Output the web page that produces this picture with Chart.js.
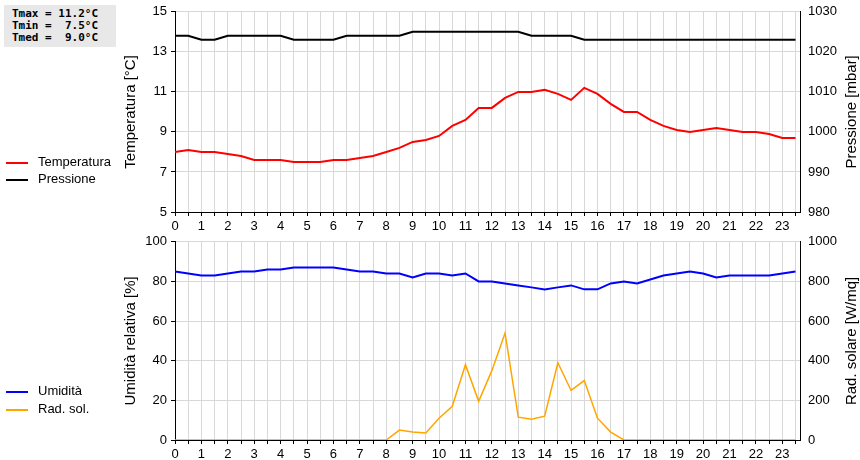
<!DOCTYPE html>
<html>
<head>
<meta charset="utf-8">
<script src="https://cdn.jsdelivr.net/npm/chart.js@4"></script>
<style>
body { margin: 0; background: #fff; font-family: "Liberation Sans", Arial, sans-serif; }
#wrap { position: relative; width: 860px; height: 460px; }
.cv { position: absolute; left: 0; }
#stats { position: absolute; left: 4px; top: 5px; width: 104px; background: #e8e8e8; font: bold 11px "DejaVu Sans Mono", monospace; padding: 3px 0 3px 8px; line-height: 12px; white-space: pre; }
.leg { position: absolute; left: 6px; font-size: 13px; }
.leg span { display: inline-block; width: 22px; height: 2px; vertical-align: middle; margin-right: 10px; }
</style>
</head>
<body>
<div id="wrap">
  <canvas id="topChart" class="cv" style="top:0" width="860" height="232"></canvas>
  <canvas id="botChart" class="cv" style="top:230px" width="860" height="230"></canvas>
  <div id="stats">Tmax = 11.2°C
Tmin =  7.5°C
Tmed =  9.0°C</div>
  <div class="leg" style="top:154px"><span style="background:#f00"></span>Temperatura</div>
  <div class="leg" style="top:171px"><span style="background:#000"></span>Pressione</div>
  <div class="leg" style="top:383px"><span style="background:#00f"></span>Umidità</div>
  <div class="leg" style="top:401px"><span style="background:#ffa500"></span>Rad. sol.</div>
</div>
<script>
// half-hour readings, 0.0 .. 23.5
const hours = Array.from({ length: 48 }, (_, i) => i / 2);

const temperatura = [8.0, 8.1, 8.0, 8.0, 7.9, 7.8, 7.6, 7.6, 7.6, 7.5, 7.5, 7.5,
    7.6, 7.6, 7.7, 7.8, 8.0, 8.2, 8.5, 8.6, 8.8, 9.3, 9.6, 10.2,
    10.2, 10.7, 11.0, 11.0, 11.1, 10.9, 10.6, 11.2, 10.9, 10.4, 10.0, 10.0,
    9.6, 9.3, 9.1, 9.0, 9.1, 9.2, 9.1, 9.0, 9.0, 8.9, 8.7, 8.7];
const pressione = [1024, 1024, 1023, 1023, 1024, 1024, 1024, 1024, 1024, 1023, 1023, 1023,
    1023, 1024, 1024, 1024, 1024, 1024, 1025, 1025, 1025, 1025, 1025, 1025,
    1025, 1025, 1025, 1024, 1024, 1024, 1024, 1023, 1023, 1023, 1023, 1023,
    1023, 1023, 1023, 1023, 1023, 1023, 1023, 1023, 1023, 1023, 1023, 1023];
const umidita = [85, 84, 83, 83, 84, 85, 85, 86, 86, 87, 87, 87,
    87, 86, 85, 85, 84, 84, 82, 84, 84, 83, 84, 80,
    80, 79, 78, 77, 76, 77, 78, 76, 76, 79, 80, 79,
    81, 83, 84, 85, 84, 82, 83, 83, 83, 83, 84, 85];
const radSol = [0, 0, 0, 0, 0, 0, 0, 0, 0, 0, 0, 0,
    0, 0, 0, 0, 0, 50, 40, 35, 110, 170, 380, 195,
    350, 540, 115, 105, 120, 390, 250, 300, 110, 40, 0, 0,
    0, 0, 0, 0, 0, 0, 0, 0, 0, 0, 0, 0];

const tickFont = { family: 'Liberation Sans', size: 13 };
const titleFont = { family: 'Liberation Sans', size: 15 };
const pts = arr => arr.map((v, i) => ({ x: hours[i], y: v }));

// right axis title reads bottom-to-top like the left one
const rightTitle = {
    id: 'rightTitle',
    afterDraw(chart, args, opts) {
        const a = chart.scales.y1;
        const ctx = chart.ctx;
        ctx.save();
        ctx.translate(a.right - 8, (a.top + a.bottom) / 2);
        ctx.rotate(-Math.PI / 2);
        ctx.font = '15px "Liberation Sans"';
        ctx.fillStyle = '#000';
        ctx.textAlign = 'center';
        ctx.textBaseline = 'middle';
        ctx.fillText(opts.text, 0, 0);
        ctx.restore();
    }
};

function xScale() {
    return {
        type: 'linear', min: 0, max: 23.67,
        afterBuildTicks: axis => { axis.ticks = hours.map(h => ({ value: h })); },
        ticks: { color: '#000', font: tickFont, maxRotation: 0, autoSkip: false,
            callback: v => Number.isInteger(v) ? v : '' },
        grid: { color: '#d8d8d8', tickColor: '#000', tickLength: 4 },
        border: { color: '#000' },
        afterFit: a => { a.height = 20; }
    };
}

function yScale(pos, min, max, step, title, grid) {
    return {
        position: pos, min: min, max: max,
        ticks: { stepSize: step, color: '#000', font: tickFont, padding: 4, callback: v => String(v) },
        grid: { display: grid, color: '#d8d8d8', drawTicks: true, tickColor: '#000', tickLength: 4 },
        border: { color: '#000' },
        title: { display: pos === 'left', text: title, color: '#000', font: titleFont, padding: 2 },
        afterFit: a => { a.width = pos === 'left' ? 55 : 60; }
    };
}

function ds(label, data, color, axis, width) {
    return { label, data: pts(data), borderColor: color, backgroundColor: color,
        borderWidth: width, pointRadius: 0, tension: 0, yAxisID: axis };
}

function opts(rt) {
    return {
        responsive: false, animation: false,
        layout: { padding: { left: 120, top: 10, right: 0, bottom: 0 } },
        plugins: { legend: { display: false }, tooltip: { enabled: false }, rightTitle: { text: rt } }
    };
}

new Chart(document.getElementById('topChart'), {
    type: 'line',
    plugins: [rightTitle],
    data: { datasets: [
        ds('Temperatura', temperatura, '#ff0000', 'y', 2),
        ds('Pressione', pressione, '#000000', 'y1', 2)
    ] },
    options: { ...opts('Pressione [mbar]'), scales: {
        x: xScale(),
        y: yScale('left', 5, 15, 2, 'Temperatura [°C]', true),
        y1: yScale('right', 980, 1030, 10, 'Pressione [mbar]', false)
    } }
});

new Chart(document.getElementById('botChart'), {
    type: 'line',
    plugins: [rightTitle],
    data: { datasets: [
        ds('Umidità', umidita, '#0000ff', 'y', 2),
        ds('Rad. sol.', radSol, '#ffa500', 'y1', 1.5)
    ] },
    options: { ...opts('Rad. solare [W/mq]'), scales: {
        x: xScale(),
        y: yScale('left', 0, 100, 20, 'Umidità relativa [%]', true),
        y1: yScale('right', 0, 1000, 200, 'Rad. solare [W/mq]', false)
    } }
});
</script>
</body>
</html>
